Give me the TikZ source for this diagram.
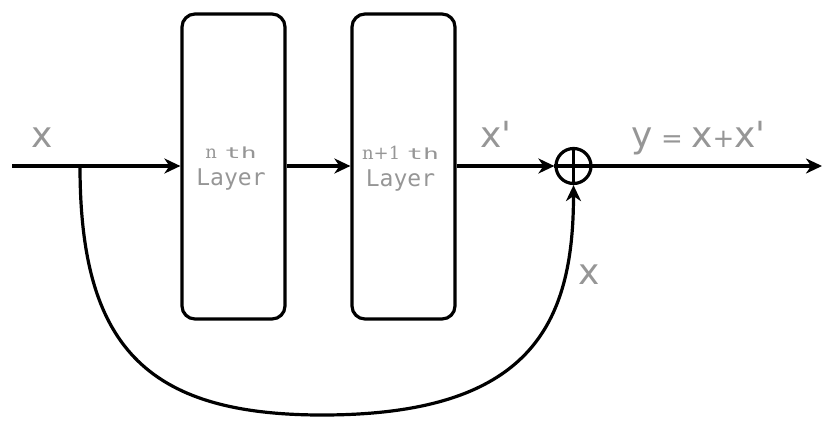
\documentclass[tikz,border=0pt]{standalone}
\usepackage{fontspec}
\usepackage{graphicx}
\setmainfont{DejaVu Sans}[Ligatures=TeXOff]
\newfontfamily\monofont{DejaVu Sans Mono}
\newfontfamily\seriffont{DejaVu Serif}
\usetikzlibrary{arrows.meta}
\definecolor{labelgray}{RGB}{150,150,150}

% pieces of the layer captions
\newcommand{\ordpart}[1]{{\seriffont\fontsize{18}{18}\selectfont #1}}
\newcommand{\thpart}{\scalebox{1.55}[0.9]{\monofont\fontsize{17}{17}\selectfont th}}
\newcommand{\layerword}{{\monofont\fontsize{23}{23}\selectfont Layer}}
\newcommand{\opsign}[1]{{\fontsize{26}{26}\selectfont #1}}

\begin{document}
\begin{tikzpicture}[x=1pt,y=-1pt,
  line width=3.2pt,
  block/.style={draw, rounded corners=13pt, minimum width=103pt,
    minimum height=305pt, inner sep=0pt},
  caption/.style={text=labelgray, inner sep=0pt, align=center,
    font=\fontsize{23}{27}\selectfont},
  flow/.style={-{Stealth[length=16pt,width=15pt,inset=5pt]}},
  lbl/.style={text=labelgray, inner sep=0pt, anchor=base west,
    font=\fontsize{36}{36}\selectfont},
  sumnode/.style={draw, circle, minimum size=35pt, inner sep=0pt}]

\useasboundingbox (0,0) rectangle (822,421);

% input and output ends of the main line
\coordinate (in) at (12,166);
\coordinate (out) at (822,166);
\coordinate (split) at (80,166);

% the two layers and their captions
\node[block] (l1) at (233.5,166.5) {};
\node[block] (l2) at (403.5,166.5) {};
\node[caption] (c1) at (231,168.3) {\ordpart{n}\hspace{8pt}\thpart\\\layerword};
\node[caption] (c2) at (400.5,168.3) {\ordpart{n+1}\hspace{7pt}\thpart\\\layerword};

% the adder
\node[sumnode] (sum) at (573.5,166) {};
\draw (sum.north) -- (sum.south);
\draw (sum.west) -- (sum.east);

% main path
\draw[flow] (in) -- (l1.west |- in);
\draw[flow] (l1.east |- in) -- (l2.west |- in);
\draw[flow] (l2.east |- in) -- (sum.west);
\draw[flow] (sum.east) -- (out);

% skip connection
\coordinate (bottom) at (322,415);
\draw[flow] (split) .. controls (80,345) and (145,415) .. (bottom)
  .. controls (530,415) and (573.5,325) .. (sum.south);

% labels
\node[lbl] (xin) at (30,147) {x};
\node[lbl] (xprime) at (479,147) {x'};
\node[lbl] (yout) at (630,147)
  {y\opsign{ = }x\opsign{+}x'};
\node[lbl] (xskip) at (577,284) {x};
\end{tikzpicture}
\end{document}
